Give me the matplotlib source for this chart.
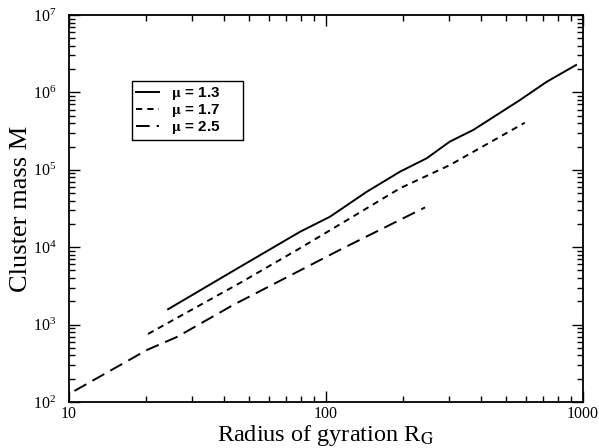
import numpy as np
import matplotlib
matplotlib.use("Agg")
import matplotlib.pyplot as plt
from matplotlib.ticker import LogLocator, FixedLocator, FixedFormatter, NullFormatter

plt.rcParams['font.family'] = ['Liberation Serif', 'DejaVu Serif']
plt.rcParams['mathtext.fontset'] = 'stix'

# mu = 1.3
r13 = [24.3, 46.2, 79.2, 103.7, 144, 194, 246.6, 303, 374, 569, 722, 940]
m13 = [1.58e3, 5.55e3, 1.58e4, 2.48e4, 5.2e4, 9.45e4, 1.41e5, 2.31e5, 3.27e5, 7.98e5, 1.37e6, 2.26e6]
# mu = 1.7
r17 = [20.3, 46.2, 79.2, 124, 194, 303, 594]
m17 = [757, 3.44e3, 9.7e3, 2.36e4, 5.77e4, 1.15e5, 4.06e5]
# mu = 2.5
r25 = [10.5, 20.1, 26.3, 43.5, 116.5, 243]
m25 = [139, 470, 692, 1.79e3, 9.7e3, 3.27e4]

labels = [r"$\mathbf{\mu}$ = 1.3", r"$\mathbf{\mu}$ = 1.7", r"$\mathbf{\mu}$ = 2.5"]
xticks = [10, 100, 1000]
xticklabels = ["10", "100", "1000"]

fig = plt.figure(figsize=(5.99, 4.48), dpi=100)
ax = fig.add_axes([0.1152, 0.1027, 0.8581, 0.8638])

lw = 1.4
ax.plot(r13, m13, color='black', lw=lw, linestyle='-', label=labels[0])
ax.plot(r17, m17, color='black', lw=lw, linestyle=(0, (3.2, 2.6)), label=labels[1])
ax.plot(r25, m25, color='black', lw=lw, linestyle=(0, (7, 3.6)), label=labels[2])

ax.set_xscale('log')
ax.set_yscale('log')
ax.set_xlim(10, 1000)
ax.set_ylim(1e2, 1e7)

ax.xaxis.set_major_locator(FixedLocator(xticks))
ax.xaxis.set_major_formatter(FixedFormatter(xticklabels))
ax.xaxis.set_minor_locator(LogLocator(base=10, subs=np.arange(2, 10)))
ax.xaxis.set_minor_formatter(NullFormatter())
ax.yaxis.set_major_locator(LogLocator(base=10, numticks=10))
ax.yaxis.set_minor_locator(LogLocator(base=10, subs=np.arange(2, 10), numticks=20))
ax.yaxis.set_minor_formatter(NullFormatter())

ax.tick_params(which='both', direction='in', top=True, right=True, width=1.0, labelsize=11.5)
ax.tick_params(which='major', length=8)
ax.tick_params(which='minor', length=4)
ax.tick_params(axis='x', pad=3)
ax.tick_params(axis='y', pad=9)
for s in ax.spines.values():
    s.set_linewidth(1.3)

ax.set_xlabel(r"Radius of gyration R$_\mathrm{G}$", fontsize=17.5, labelpad=0.5)
ax.set_ylabel("Cluster mass M", fontsize=19, labelpad=1)

leg = ax.legend(loc='upper left', bbox_to_anchor=(0.123, 0.829, 0.216, 0.0),
                mode='expand', fancybox=False,
                edgecolor='black', framealpha=1, handlelength=1.5, borderpad=0.25,
                labelspacing=0.0, handletextpad=0.8, borderaxespad=0,
                prop={'family': 'Liberation Sans', 'weight': 'bold', 'size': 11})
leg.get_frame().set_linewidth(1.0)

fig.savefig("out.png", dpi=100)
